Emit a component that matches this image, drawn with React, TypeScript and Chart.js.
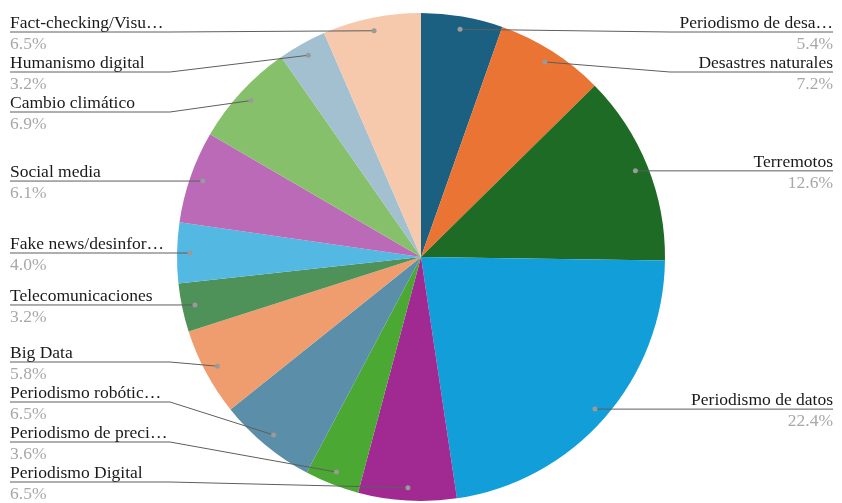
import React, { useEffect, useRef } from "react";
import { Chart, registerables } from "chart.js";

Chart.register(...registerables);

const labels = [
  "Periodismo de desa…",
  "Desastres naturales",
  "Terremotos",
  "Periodismo de datos",
  "Periodismo Digital",
  "Periodismo de preci…",
  "Periodismo robótic…",
  "Big Data",
  "Telecomunicaciones",
  "Fake news/desinfor…",
  "Social media",
  "Cambio climático",
  "Humanismo digital",
  "Fact-checking/Visu…",
];

const values = [5.4, 7.2, 12.6, 22.4, 6.5, 3.6, 6.5, 5.8, 3.2, 4.0, 6.1, 6.9, 3.2, 6.5];

const colors = [
  "#1b5f81",
  "#ea7434",
  "#1e6b25",
  "#129fd9",
  "#a02a91",
  "#4aa833",
  "#5b8fa9",
  "#ef9d6f",
  "#4e9159",
  "#53b8e2",
  "#ba6ab7",
  "#86c06b",
  "#a2c0d0",
  "#f6c8ac",
];

const FONT = "17.5px 'Liberation Serif'";

const outsideLabels = {
  id: "outsideLabels",
  afterDraw(chart: any) {
    const ctx = chart.ctx as CanvasRenderingContext2D;
    const meta = chart.getDatasetMeta(0);
    const data = chart.data.datasets[0].data as number[];
    const total = data.reduce((a, b) => a + b, 0);
    const W = chart.width;
    const items: any[] = [];
    meta.data.forEach((arc: any, i: number) => {
      const mid = (arc.startAngle + arc.endAngle) / 2;
      const r = arc.outerRadius * 0.947;
      const px = arc.x + Math.cos(mid) * r;
      const py = arc.y + Math.sin(mid) * r;
      items.push({ i, px, py, right: Math.cos(mid) >= 0, y: py, cx: arc.x, R: arc.outerRadius });
    });
    const top = 32;
    const bottom = 482;
    const gap = 40;
    [true, false].forEach((side) => {
      const list = items.filter((it) => it.right === side).sort((a, b) => a.py - b.py);
      let prev = -Infinity;
      list.forEach((it) => {
        it.y = Math.max(it.py, top, prev + gap);
        prev = it.y;
      });
      let next = Infinity;
      for (let k = list.length - 1; k >= 0; k--) {
        const it = list[k];
        it.y = Math.min(it.y, bottom, next - gap);
        next = it.y;
      }
    });
    ctx.save();
    items.forEach((it) => {
      const name = chart.data.labels[it.i] as string;
      const pct = ((data[it.i] / total) * 100).toFixed(1) + "%";
      const edge = it.right ? W - 9 : 10;
      const knee = it.right ? it.cx + it.R + 5 : it.cx - it.R - 7;
      ctx.strokeStyle = "#5e5e5e";
      ctx.lineWidth = 1;
      ctx.beginPath();
      ctx.moveTo(edge, it.y);
      ctx.lineTo(knee, it.y);
      ctx.lineTo(it.px, it.py);
      ctx.stroke();
      ctx.fillStyle = "#9a9a9a";
      ctx.beginPath();
      ctx.arc(it.px, it.py, 2.5, 0, Math.PI * 2);
      ctx.fill();
      ctx.font = FONT;
      ctx.textAlign = it.right ? "right" : "left";
      ctx.textBaseline = "alphabetic";
      ctx.fillStyle = "#1a1a1a";
      ctx.fillText(name, edge, it.y - 4);
      ctx.fillStyle = "#a8a8a8";
      ctx.fillText(pct, edge, it.y + 17);
    });
    ctx.restore();
  },
};

export default function App() {
  const ref = useRef<HTMLCanvasElement>(null);
  useEffect(() => {
    if (!ref.current) return;
    const chart = new Chart(ref.current, {
      type: "pie",
      data: { labels, datasets: [{ data: values, backgroundColor: colors, borderWidth: 0 }] },
      options: {
        animation: false,
        responsive: true,
        maintainAspectRatio: false,
        layout: { padding: { top: 13, bottom: 2, left: 0, right: 0 } },
        plugins: { legend: { display: false }, tooltip: { enabled: false } },
      },
      plugins: [outsideLabels],
    });
    let alive = true;
    const fonts = (document as any).fonts;
    if (fonts && fonts.load) {
      fonts.load(FONT).then(() => {
        if (alive) chart.draw();
      });
    }
    return () => {
      alive = false;
      chart.destroy();
    };
  }, []);
  return (
    <div style={{ position: "fixed", left: 0, top: 0, width: 842, height: 503, background: "#fff" }}>
      <canvas ref={ref} />
    </div>
  );
}
